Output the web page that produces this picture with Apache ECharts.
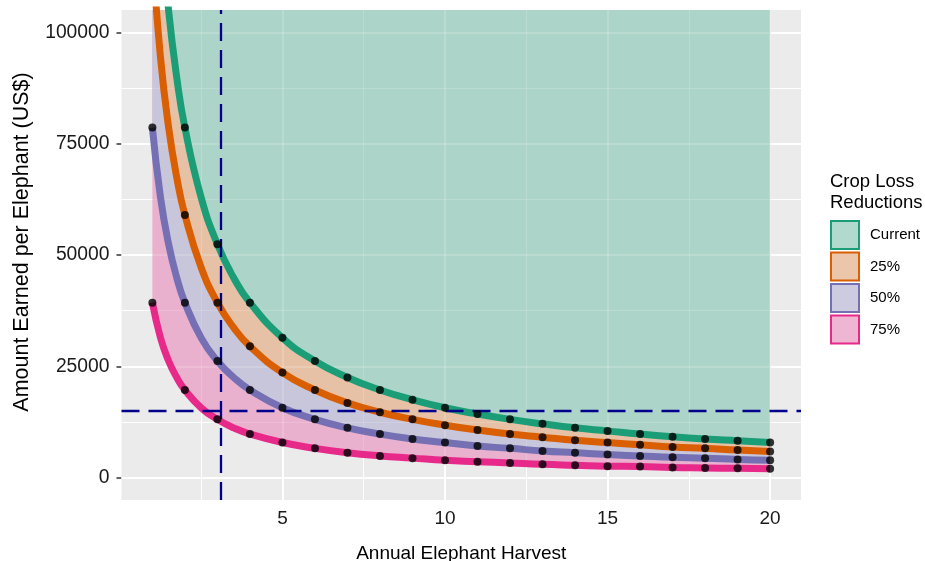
<!DOCTYPE html>
<html>
<head>
<meta charset="utf-8">
<title>Amount earned per elephant</title>
<script src="https://cdn.jsdelivr.net/npm/echarts@6/dist/echarts.min.js"></script>
<style>
  html, body { margin: 0; padding: 0; background: #fff; }
  #chart { width: 925px; height: 561px; }
</style>
</head>
<body>
<div id="chart"></div>
<script>
"use strict";

// annual harvest (x); the dots sit on the whole numbers
const harvest = [1, 1.25, 1.5, 1.75, 2, 2.5, 3, 3.5, 4, 5, 6, 7, 8, 9, 10, 11, 12, 13, 14, 15, 16, 17, 18, 19, 20];

// amount earned per elephant (US$)
const earnCurrent = [157200, 125800, 104800, 89800, 78600, 62900, 52400, 44900, 39300, 31400, 26200, 22500, 19700, 17500, 15700, 14300, 13100, 12100, 11200, 10500, 9800, 9200, 8700, 8300, 7900];
const earn25 = [117900, 94300, 78600, 67400, 59000, 47200, 39300, 33700, 29500, 23600, 19700, 16800, 14700, 13100, 11800, 10700, 9800, 9100, 8400, 7900, 7400, 6900, 6600, 6200, 5900];
const earn50 = [78600, 62900, 52400, 44900, 39300, 31400, 26200, 22500, 19700, 15700, 13100, 11200, 9800, 8700, 7900, 7100, 6600, 6000, 5600, 5200, 4900, 4600, 4400, 4100, 3900];
const earn75 = [39300, 31400, 26200, 22500, 19700, 15700, 13100, 11200, 9800, 7900, 6600, 5600, 4900, 4400, 3900, 3600, 3300, 3000, 2800, 2600, 2500, 2300, 2200, 2100, 2000];

const groups = ['Current', '25%', '50%', '75%'];

// axis ticks
const xTicks = [5, 10, 15, 20];
const xMinor = [2.5, 7.5, 12.5, 17.5];
const yTicks = [0, 25000, 50000, 75000, 100000];
const yMinor = [12500, 37500, 62500, 87500];

// reference lines
const harvestCut = 3.1;
const earnCut = 15000;

const font = 'Liberation Sans, Arial, sans-serif';
const lineColors = { 'Current': '#1B9E77', '25%': '#D95F02', '50%': '#7570B3', '75%': '#E7298A' };
// 30% of the line colour over the grey panel
const bandColors = { 'Current': '#ADD4C8', '25%': '#E6C1A5', '50%': '#C8C6DA', '75%': '#EAB1CE' };
const keyColors = { 'Current': '#B2D9CD', '25%': '#EBC6AA', '50%': '#CDCBDF', '75%': '#EFB6D3' };

const curves = { 'Current': earnCurrent, '25%': earn25, '50%': earn50, '75%': earn75 };
const pairs = ys => harvest.map((x, i) => [x, ys[i]]);
const dots = ys => pairs(ys).filter(p => Number.isInteger(p[0]));

const gridLines = (major, minor, key) => [].concat(
    minor.map(v => ({ [key]: v, lineStyle: { width: 1 } })),
    major.map(v => ({ [key]: v, lineStyle: { width: 2 } }))
);

var series = [];

// ribbons: each one runs from its curve up to the top, later ones cover the earlier
['75%', '50%', '25%', 'Current'].forEach((g, k) => {
    var s = {
        name: 'band ' + g, type: 'line', data: pairs(curves[g]), smooth: 0.5,
        showSymbol: false, lineStyle: { width: 0 }, z: 2, silent: true,
        areaStyle: { color: bandColors[g], opacity: 1, origin: 'end' }
    };
    if (k === 0) {
        // panel grid under the ribbons
        s.markLine = {
            silent: true, symbol: 'none', z: 1, label: { show: false }, animation: false,
            lineStyle: { color: '#fff', type: 'solid' },
            data: [].concat(gridLines(xTicks, xMinor, 'xAxis'), gridLines(yTicks, yMinor, 'yAxis'))
        };
    }
    if (k === 3) {
        // the grid showing faintly through the ribbons
        s.markLine = {
            silent: true, symbol: 'none', z: 2.5, label: { show: false }, animation: false,
            lineStyle: { color: 'rgba(255,255,255,0.16)', type: 'solid' },
            data: [].concat(gridLines(xTicks, xMinor, 'xAxis'), gridLines(yTicks, yMinor, 'yAxis'))
        };
    }
    series.push(s);
});

// curves
['75%', '50%', '25%', 'Current'].forEach(g => {
    var s = {
        name: 'line ' + g, type: 'line', data: pairs(curves[g]), smooth: 0.5,
        showSymbol: false, z: 3, silent: true,
        lineStyle: { color: lineColors[g], width: 7, cap: 'butt' }
    };
    if (g === 'Current') {
        s.markLine = {
            silent: true, symbol: 'none', z: 4, label: { show: false }, animation: false,
            lineStyle: { color: '#00008B', width: 2.3, type: [18, 9] },
            data: [{ xAxis: harvestCut }, { yAxis: earnCut }]
        };
    }
    series.push(s);
});

// dots at whole harvests
series.push({
    name: 'dots', type: 'scatter', z: 5, silent: true,
    symbolSize: 8, itemStyle: { color: '#000' },
    data: [].concat(dots(earnCurrent), dots(earn25), dots(earn50), dots(earn75))
});

// empty series only for the legend keys
groups.forEach(g => {
    series.push({
        name: g, type: 'bar', data: [],
        itemStyle: { color: keyColors[g], borderColor: lineColors[g], borderWidth: 1.5 }
    });
});

var myChart = echarts.init(document.getElementById('chart'));

var option = {
    animation: false,
    textStyle: { fontFamily: font },
    title: [{
        text: 'Crop Loss\nReductions', left: 830, top: 171, padding: 0,
        textStyle: { fontSize: 18.5, fontWeight: 'normal', color: '#000', lineHeight: 21, fontFamily: font }
    }],
    legend: {
        orient: 'vertical', left: 830, top: 220, padding: 0,
        icon: 'rect', itemWidth: 28, itemHeight: 28, itemGap: 1.5,
        selectedMode: false,
        textStyle: { fontSize: 15, color: '#000', fontFamily: font, padding: [0, 0, 0, 6] },
        data: groups
    },
    grid: {
        left: 121.5, right: 124, top: 10, bottom: 61,
        outerBoundsMode: 'none',
        show: true, backgroundColor: '#EBEBEB', borderWidth: 0
    },
    xAxis: {
        type: 'value', min: 0.05, max: 20.95,
        name: 'Annual Elephant Harvest', nameLocation: 'middle', nameGap: 44,
        nameTextStyle: { fontSize: 19, color: '#000', fontFamily: font },
        axisLine: { show: false },
        axisTick: { show: true, customValues: xTicks, length: 5, lineStyle: { color: '#333', width: 1.5 } },
        axisLabel: { customValues: xTicks, fontSize: 19, color: '#1a1a1a', margin: 9.5, fontFamily: font },
        splitLine: { show: false }
    },
    yAxis: {
        type: 'value', min: -5000, max: 105000,
        name: 'Amount Earned per Elephant (US$)', nameLocation: 'middle', nameGap: 88,
        nameTextStyle: { fontSize: 21.5, color: '#000', fontFamily: font, padding: [0, 0, 0, 26] },
        axisLine: { show: false },
        axisTick: { show: true, customValues: yTicks, length: 5, lineStyle: { color: '#333', width: 1.5 } },
        axisLabel: { customValues: yTicks, fontSize: 19.3, color: '#1a1a1a', margin: 12, fontFamily: font, formatter: v => String(v) },
        splitLine: { show: false }
    },
    series: series
};

myChart.setOption(option);
</script>
</body>
</html>
